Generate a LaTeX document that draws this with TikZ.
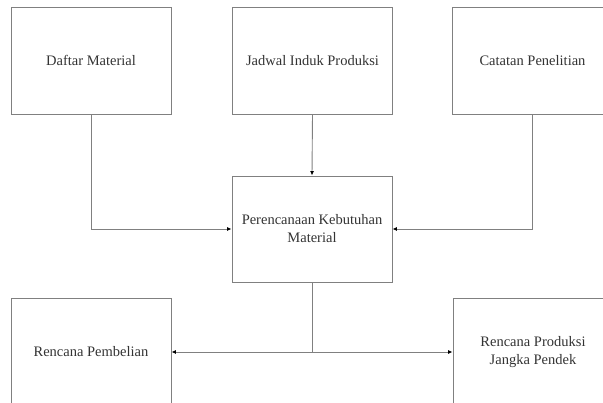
\documentclass[tikz,border=0pt]{standalone}
\usepackage{fontspec}
\setmainfont{Liberation Serif}
\usetikzlibrary{arrows.meta}

\begin{document}
\begin{tikzpicture}[x=1pt,y=-1pt]
    \tikzstyle{box}=[draw=black!50,line width=0.9pt,minimum width=160pt,minimum height=107pt,inner sep=0pt,align=center,font=\fontsize{14.5}{18}\selectfont,text=black!80]
    \tikzstyle{label}=[align=center,font=\fontsize{14.5}{18}\selectfont,text=black!80]
    \tikzstyle{link}=[draw=black!50,line width=0.9pt]
    \tikzstyle{tip}=[-{Latex[length=4.5pt,width=4pt,black]}]
    \useasboundingbox (0,0) rectangle (603,403);
    \clip (0,0) rectangle (603,403);
    % inputs
    \node[box] (daftar) at (91,60.5) {Daftar Material};
    \node[box] (jadwal) at (312.5,60.5) {Jadwal Induk Produksi};
    \node[box] (catatan) at (532.5,60.5) {Catatan Penelitian};
    % process
    \node[box,minimum height=106pt] (mrp) at (312,229) {Perencanaan Kebutuhan\\Material};
    % outputs
    \node[box,minimum height=120pt,anchor=north] (pembelian) at (91,298) {};
    \node[label] (pembelian_t) at (91,352) {Rencana Pembelian};
    \node[box,minimum height=120pt,anchor=north] (produksi) at (533,298) {};
    \node[label] (produksi_t) at (533,352) {Rencana Produksi\\Jangka Pendek};
    \coordinate (split) at (312,352);
    % connectors
    \draw[link,tip] (daftar.south) |- (mrp.west);
    \draw[link,tip] (jadwal.south) -- (mrp.north);
    \draw[link,tip] (catatan.south) |- (mrp.east);
    \draw[link] (mrp.south) -- (split);
    \draw[link,tip] (split) -- (pembelian.east |- split);
    \draw[link,tip] (split) -- (produksi.west |- split);
\end{tikzpicture}
\end{document}
